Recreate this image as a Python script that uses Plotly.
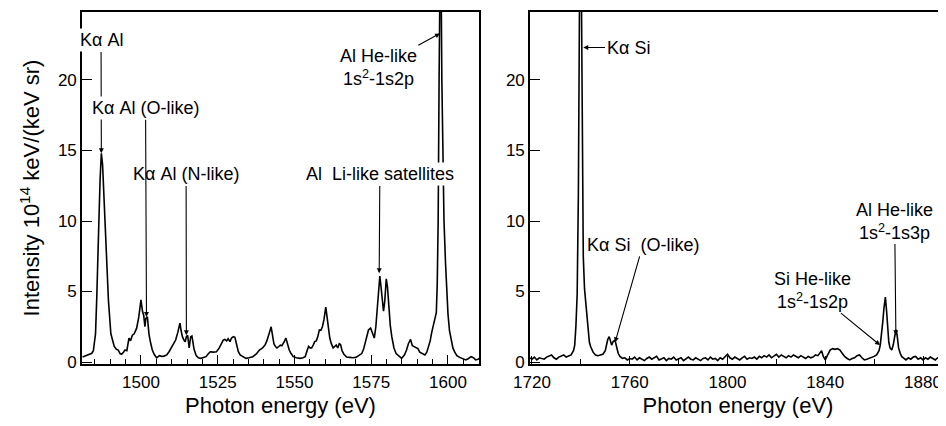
import plotly.graph_objects as go

# ---------------- data ----------------
# Left panel: Al spectrum
E_AL = [1481.0, 1482.0, 1483.0, 1484.0, 1484.5, 1485.2, 1485.6, 1485.9, 1486.3, 1486.7,
        1487.1, 1487.5, 1487.9, 1488.3, 1488.8, 1489.4, 1490.2, 1490.7, 1491.3, 1492.0,
        1492.6, 1493.2, 1493.7, 1494.3, 1494.8, 1495.4, 1496.1, 1496.6, 1497.2, 1497.8,
        1498.6, 1499.3, 1500.0, 1500.5, 1500.9, 1501.3, 1501.6, 1502.1, 1502.6, 1503.1,
        1503.7, 1504.3, 1505.1, 1506.0, 1506.7, 1507.5, 1508.4, 1509.2, 1510.0, 1510.6,
        1511.3, 1512.0, 1512.7, 1513.1, 1513.5, 1514.0, 1514.4, 1514.8, 1515.2, 1515.7,
        1516.2, 1516.6, 1517.3, 1518.0, 1518.7, 1519.5, 1520.3, 1521.2, 1522.0, 1522.6,
        1523.5, 1524.6, 1525.5, 1526.2, 1526.8, 1527.3, 1527.9, 1528.4, 1529.0, 1529.5,
        1530.1, 1530.6, 1531.2, 1531.7, 1532.3, 1533.2, 1534.2, 1535.2, 1536.4, 1537.5,
        1538.6, 1539.6, 1540.4, 1541.0, 1541.5, 1542.0, 1542.4, 1542.9, 1543.3, 1543.8,
        1544.3, 1544.9, 1545.4, 1545.9, 1546.4, 1546.8, 1547.2, 1547.7, 1548.3, 1548.9,
        1549.6, 1550.6, 1551.8, 1552.8, 1553.5, 1554.1, 1554.6, 1555.1, 1555.6, 1556.1,
        1556.6, 1557.1, 1557.6, 1558.1, 1558.6, 1559.1, 1559.6, 1560.2, 1560.6, 1561.0,
        1561.5, 1562.0, 1562.6, 1563.1, 1563.6, 1564.1, 1564.6, 1565.0, 1565.5, 1566.1,
        1567.0, 1568.0, 1569.0, 1570.0, 1571.0, 1571.9, 1572.5, 1573.0, 1573.6, 1574.1,
        1574.8, 1575.4, 1576.0, 1576.5, 1577.0, 1577.4, 1577.8, 1578.2, 1578.6, 1579.0,
        1579.4, 1579.9, 1580.3, 1580.7, 1581.2, 1581.7, 1582.4, 1583.1, 1584.0, 1584.9,
        1585.8, 1586.5, 1587.1, 1587.8, 1588.4, 1589.0, 1589.6, 1590.2, 1590.8, 1591.6,
        1592.5, 1593.1, 1593.7, 1594.2, 1594.7, 1595.2, 1595.8, 1596.2, 1596.5, 1596.8,
        1597.1, 1597.6, 1598.0, 1598.3, 1598.7, 1599.2, 1599.6, 1600.0, 1600.5, 1601.1,
        1601.6, 1602.2, 1602.9, 1603.8, 1604.8, 1605.8, 1606.7, 1607.5, 1608.3, 1609.0,
        1609.8, 1610.2]
I_AL = [0.35, 0.45, 0.5, 0.62, 0.8, 2.0, 4.5, 7.9, 10.0, 13.0,
        14.8, 14.0, 12.0, 10.0, 7.9, 4.4, 2.0, 1.5, 1.1, 0.9,
        0.85, 0.6, 0.55, 0.7, 0.85, 0.8, 1.7, 1.5, 1.9, 2.0,
        2.4, 3.2, 4.4, 3.6, 3.3, 2.5, 3.1, 3.2, 2.0, 1.4,
        0.85, 0.55, 0.3, 0.45, 0.4, 0.42, 0.5, 0.75, 1.1, 1.3,
        1.56, 2.1, 2.75, 2.2, 1.8, 1.55, 1.44, 1.8, 1.9, 1.0,
        1.8, 1.85, 0.9, 0.45, 0.3, 0.26, 0.3, 0.38, 0.6, 0.73,
        0.7, 0.73, 1.0, 1.3, 1.56, 1.6, 1.5, 1.65, 1.45, 1.7,
        1.8, 1.75, 1.1, 0.75, 0.5, 0.4, 0.26, 0.3, 0.38, 0.55,
        0.85, 1.0, 1.2, 1.5, 1.8, 2.2, 2.5, 1.8, 1.3, 1.1,
        1.0, 1.1, 1.2, 1.15, 1.3, 1.5, 1.7, 1.3, 0.85, 0.6,
        0.38, 0.3, 0.26, 0.3, 0.38, 0.8, 1.1, 1.0, 1.0, 1.2,
        1.45, 1.5, 1.8, 2.27, 2.25, 2.5, 3.0, 3.9, 3.2, 2.4,
        1.7, 1.3, 1.0, 1.1, 1.2, 1.0, 1.3, 1.25, 0.8, 0.55,
        0.35, 0.33, 0.3, 0.33, 0.45, 0.6, 0.9, 1.3, 1.8, 2.27,
        2.4, 2.1, 1.7, 2.5, 3.8, 5.2, 6.1, 5.3, 4.2, 3.6,
        4.3, 5.9, 5.3, 4.0, 2.6, 1.8, 1.0, 0.6, 0.45, 0.26,
        0.5, 0.85, 1.3, 1.6, 1.15, 1.1, 1.0, 0.95, 0.7, 0.6,
        0.5, 0.7, 1.1, 1.5, 2.1, 2.6, 3.1, 3.5, 5.5, 10.0,
        20.0, 32.0, 20.0, 14.0, 10.0, 7.0, 5.0, 3.4, 2.2, 1.5,
        1.0, 0.7, 0.45, 0.33, 0.25, 0.15, 0.25, 0.38, 0.3, 0.15,
        0.2, 0.25]

# Right panel: Si spectrum
E_SI = [1719.2, 1720, 1721, 1722, 1723, 1724, 1725, 1726, 1727, 1728,
        1729, 1730, 1731, 1732, 1733, 1734, 1735, 1736, 1737, 1737.5,
        1738, 1738.5, 1739, 1739.5, 1740, 1740.5, 1741, 1741.5, 1742, 1742.5,
        1743, 1743.5, 1744, 1745, 1746, 1747, 1748, 1749, 1750, 1750.5,
        1751, 1751.6, 1752.2, 1752.6, 1753.2, 1754, 1754.6, 1755.3, 1756, 1757,
        1758, 1759, 1760, 1761, 1762, 1763, 1764, 1765, 1766, 1767,
        1768, 1769, 1770, 1771, 1772, 1773, 1774, 1775, 1776, 1777,
        1778, 1779, 1780, 1781, 1782, 1783, 1784, 1785, 1786, 1787,
        1788, 1789, 1790, 1791, 1792, 1793, 1794, 1795, 1796, 1797,
        1798, 1799, 1800, 1801, 1802, 1803, 1804, 1805, 1806, 1807,
        1808, 1809, 1810, 1811, 1812, 1813, 1814, 1815, 1816, 1817,
        1818, 1819, 1820, 1821, 1822, 1823, 1824, 1825, 1826, 1827,
        1828, 1829, 1830, 1831, 1832, 1833, 1834, 1835, 1836, 1837,
        1838, 1838.5, 1839.2, 1840, 1841, 1842, 1843, 1844, 1845, 1846,
        1847, 1848, 1849, 1850, 1851, 1852, 1853, 1854, 1855, 1856,
        1857, 1858, 1859, 1860, 1861, 1862, 1862.5, 1863, 1863.5, 1864,
        1864.6, 1865.1, 1865.5, 1866, 1866.5, 1867.2, 1867.8, 1868.3, 1868.9, 1869.4,
        1870, 1870.7, 1871.3, 1872, 1873, 1874, 1875, 1876, 1877, 1878,
        1879, 1880, 1881, 1882, 1883, 1884, 1885, 1886, 1887, 1888,
        1889, 1889.5]
I_SI = [0.3, 0.2, 0.35, 0.15, 0.3, 0.25, 0.2, 0.35, 0.4, 0.5,
        0.3, 0.2, 0.35, 0.45, 0.5, 0.35, 0.4, 0.5, 0.8, 1.2,
        2.6, 4.8, 12.0, 27.0, 32.0, 15.0, 7.5, 5.2, 4.2, 3.0,
        2.0, 1.4, 1.1, 0.7, 0.5, 0.45, 0.5, 0.55, 0.8, 1.2,
        1.6, 1.8, 1.4, 1.2, 1.45, 1.55, 1.1, 0.6, 0.4, 0.26,
        0.3, 0.15, 0.25, 0.2, 0.35, 0.15, 0.3, 0.2, 0.1, 0.25,
        0.35, 0.2, 0.3, 0.4, 0.15, 0.2, 0.3, 0.1, 0.25, 0.2,
        0.35, 0.15, 0.2, 0.3, 0.1, 0.25, 0.35, 0.2, 0.15, 0.3,
        0.2, 0.1, 0.25, 0.3, 0.15, 0.35, 0.2, 0.25, 0.1, 0.3,
        0.2, 0.35, 0.55, 0.3, 0.2, 0.35, 0.25, 0.15, 0.3, 0.4,
        0.2, 0.3, 0.25, 0.35, 0.2, 0.4, 0.3, 0.45, 0.35, 0.5,
        0.3, 0.45, 0.55, 0.35, 0.5, 0.4, 0.3, 0.45, 0.35, 0.5,
        0.4, 0.3, 0.45, 0.35, 0.25, 0.4, 0.3, 0.35, 0.5, 0.45,
        0.7, 0.8, 0.4, 0.15, 0.5, 0.85, 0.95, 0.9, 0.95, 0.85,
        0.6, 0.38, 0.25, 0.15, 0.25, 0.3, 0.45, 0.5, 0.3, 0.15,
        0.2, 0.26, 0.3, 0.4, 0.5, 0.8, 1.2, 1.9, 2.8, 3.8,
        4.6, 3.6, 2.4, 1.4, 1.0, 0.85, 1.2, 1.8, 2.3, 1.9,
        1.0, 0.6, 0.38, 0.3, 0.15, 0.3, 0.2, 0.35, 0.4, 0.2,
        0.3, 0.15, 0.3, 0.2, 0.35, 0.25, 0.15, 0.3, 0.25, 0.2,
        0.3, 0.25]

# Tick labels
X_TICKS_AL = [1500, 1525, 1550, 1575, 1600]
X_TICKS_SI = [1720, 1760, 1800, 1840, 1880]
Y_TICKS = [0, 5, 10, 15, 20]

# Annotations: text, arrow tip (x, y), text centre (x, y), panel
LABELS_AL = ["K\u03b1 Al", "K\u03b1 Al (N-like)", "Al\u00a0\u00a0Li-like satellites",
             "Al He-like<br>1s<sup>2</sup>-1s2p", "K\u03b1 Al (O-like)"]
TIP_X_AL = [1487.1, 1514.8, 1577.6, 1597.4, 1501.8]
TIP_Y_AL = [14.8, 1.9, 6.3, 23.3, 3.2]
TXT_X_AL = [1487.0, 1514.7, 1577.8, 1577.3, 1501.5]
TXT_Y_AL = [22.8, 13.3, 13.3, 20.9, 18.0]

LABELS_SI = ["K\u03b1 Si", "K\u03b1 Si\u00a0\u00a0(O-like)",
             "Si He-like<br>1s<sup>2</sup>-1s2p", "Al He-like<br>1s<sup>2</sup>-1s3p"]
TIP_X_SI = [1741.0, 1754.0, 1862.4, 1868.9]
TIP_Y_SI = [22.3, 1.4, 1.2, 1.9]
TXT_X_SI = [1759.3, 1765.4, 1834.9, 1868.4]
TXT_Y_SI = [22.3, 8.3, 5.1, 10.0]

# ---------------- figure ----------------
FONT = "Liberation Sans, Arial, Helvetica, sans-serif"
# the page adds an 8px body margin, so the figure is offset by 8px and kept
# small enough that the page does not scroll
W, H = 938, 410
ML, MR, MT, MB = 74, 0, 4, 54
PW = W - ML - MR

fig = go.Figure()
fig.add_trace(go.Scatter(x=E_AL, y=I_AL, mode="lines",
                         line=dict(color="black", width=1.6),
                         xaxis="x", yaxis="y", showlegend=False))
fig.add_trace(go.Scatter(x=E_SI, y=I_SI, mode="lines",
                         line=dict(color="black", width=1.6),
                         xaxis="x2", yaxis="y2", showlegend=False))

annotations = []
for t, x, y, ax, ay in zip(LABELS_AL, TIP_X_AL, TIP_Y_AL, TXT_X_AL, TXT_Y_AL):
    annotations.append(dict(text=t, x=x, y=y, ax=ax, ay=ay, xref="x", yref="y",
                            axref="x", ayref="y", showarrow=True, arrowhead=2,
                            arrowsize=0.9, arrowwidth=1.1, arrowcolor="black",
                            bgcolor="white", borderpad=1,
                            font=dict(family=FONT, size=18, color="black")))
for t, x, y, ax, ay in zip(LABELS_SI, TIP_X_SI, TIP_Y_SI, TXT_X_SI, TXT_Y_SI):
    annotations.append(dict(text=t, x=x, y=y, ax=ax, ay=ay, xref="x2", yref="y2",
                            axref="x2", ayref="y2", showarrow=True, arrowhead=2,
                            arrowsize=0.9, arrowwidth=1.1, arrowcolor="black",
                            bgcolor="white", borderpad=1,
                            font=dict(family=FONT, size=18, color="black")))

axis_common = dict(showgrid=False, zeroline=False, showline=True, linecolor="black",
                   linewidth=1.6, ticks="inside", tickcolor="black", tickwidth=1.4,
                   tickfont=dict(family=FONT, size=17, color="black"),
                   automargin=False)

fig.update_layout(
    width=W, height=H,
    margin=dict(l=ML, r=MR, t=MT, b=MB),
    paper_bgcolor="white", plot_bgcolor="white",
    showlegend=False,
    xaxis=dict(axis_common, domain=[0, (479 - 82) / PW], range=[1480.8, 1610.1],
               tickvals=X_TICKS_AL, ticklen=9, mirror=True, anchor="y",
               minor=dict(dtick=5, tick0=1480, ticks="inside", ticklen=5,
                          tickcolor="black", tickwidth=1.4),
               ticklabelstandoff=2,
               title=dict(text="Photon energy (eV)", standoff=6,
                          font=dict(family=FONT, size=22, color="black"))),
    yaxis=dict(axis_common, domain=[0, 1], range=[-0.14, 24.82], tickvals=Y_TICKS,
               ticklen=10, mirror=True, anchor="x",
               title=dict(text="Intensity 10<sup>14</sup> keV/(keV sr)", standoff=12,
                          font=dict(family=FONT, size=22, color="black"))),
    xaxis2=dict(axis_common, domain=[(530 - 82) / PW, 1.0], range=[1719.2, 1889.4],
                tickvals=X_TICKS_SI, ticklen=8, mirror=True, anchor="y2",
                minor=dict(dtick=20, tick0=1720, ticks="inside", ticklen=5,
                           tickcolor="black", tickwidth=1.4),
                ticklabelstandoff=2,
                title=dict(text="Photon energy (eV)", standoff=6,
                           font=dict(family=FONT, size=22, color="black"))),
    yaxis2=dict(axis_common, domain=[0, 1], range=[-0.14, 24.82], tickvals=Y_TICKS,
                ticklen=10, mirror=False, anchor="x2"),
    annotations=annotations,
)

fig.write_html("out.html")
